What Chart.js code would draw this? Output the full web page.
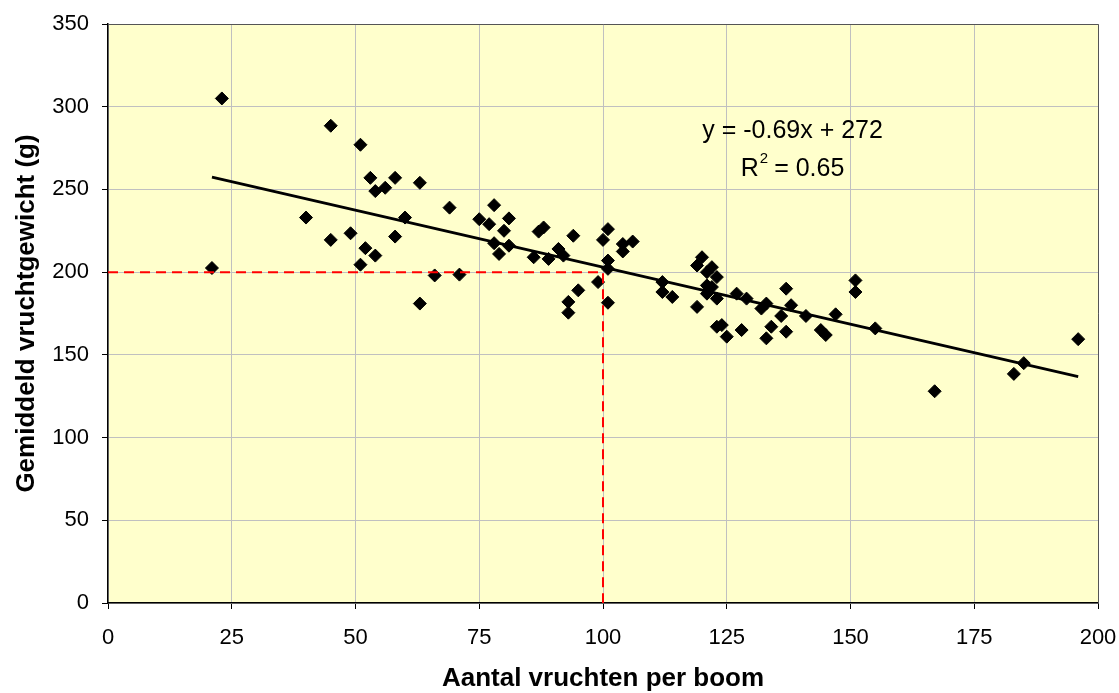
<!DOCTYPE html>
<html>
<head>
<meta charset="utf-8">
<script src="https://cdn.jsdelivr.net/npm/chart.js@4/dist/chart.umd.min.js"></script>
<style>
  html, body { margin: 0; padding: 0; background: #fff; }
  #wrap { width: 1119px; height: 693px; }
</style>
</head>
<body>
<div id="wrap"><canvas id="c"></canvas></div>
<script>
// fruit count per tree vs mean fruit weight
const aantal = [21, 23, 40, 45, 45, 49, 51, 51, 52, 53, 54, 54, 56, 58, 58, 60, 63, 63, 66, 69,
  71, 75, 77, 78, 78, 79, 80, 81, 81, 86, 87, 88, 89, 91, 92, 93, 93, 94, 95, 99,
  100, 101, 101, 101, 101, 104, 104, 106, 112, 112, 114, 119, 119, 120, 121, 121, 121, 122, 122, 123,
  123, 123, 124, 125, 127, 128, 129, 132, 133, 133, 134, 136, 137, 137, 138, 141, 144, 145, 147, 151,
  151, 155, 167, 183, 185, 196];
const gewicht = [202.5, 305, 233, 288.5, 219.5, 223.5, 277, 204.5, 214.5, 257, 249, 210, 251, 257, 221.5, 233, 254, 181, 198, 239,
  198.5, 232, 229, 240.5, 217.5, 211, 225, 232.5, 216, 209, 224.5, 227, 208, 214, 210, 182, 175.5, 222, 189, 194,
  219.5, 226, 207, 202, 181.5, 217, 212.5, 218.5, 194, 188, 185, 204, 179, 209, 200, 192, 187, 203, 191, 197,
  184, 167, 168, 161, 187, 165, 184, 178, 181, 160, 167, 173.5, 190, 164, 180, 173.5, 165, 162, 174.5, 195,
  188, 166, 128, 138.5, 145, 159.5];

// trend line end points (y = -0.69x + 272)
const trendX = [21, 196];
const trendY = [257.5, 136.8];

// reference lines at 100 fruits / 200 g
const refX = [0, 100, 100];
const refY = [200, 200, 0];

const xTicks = [0, 25, 50, 75, 100, 125, 150, 175, 200];
const yTicks = [0, 50, 100, 150, 200, 250, 300, 350];

const vergelijking = 'y = -0.69x + 272';
const rKwadraat = '0.65';

const FONT = '"Liberation Sans", Arial, sans-serif';
const toPts = (xs, ys) => xs.map((x, i) => ({ x: x, y: ys[i] }));

const plotBg = {
  id: 'plotBg',
  beforeDraw(chart) {
    const { ctx, chartArea: a } = chart;
    ctx.save();
    ctx.fillStyle = '#FFFFCC';
    ctx.fillRect(a.left, a.top, a.width, a.height);
    ctx.restore();
  },
  afterDraw(chart) {
    const { ctx, chartArea: a, scales } = chart;
    ctx.save();
    ctx.strokeStyle = '#555';
    ctx.lineWidth = 1;
    ctx.beginPath();
    ctx.moveTo(a.left, a.top + 0.5);
    ctx.lineTo(a.right + 0.5, a.top + 0.5);
    ctx.lineTo(a.right + 0.5, a.bottom);
    ctx.stroke();

    // equation text
    const cx = scales.x.getPixelForValue(138.3);
    const cy1 = scales.y.getPixelForValue(285);
    const cy2 = scales.y.getPixelForValue(262.3);
    ctx.fillStyle = '#000';
    ctx.font = '25px ' + FONT;
    ctx.textBaseline = 'middle';
    ctx.textAlign = 'center';
    ctx.fillText(vergelijking, cx, cy1);

    const p1 = 'R', p3 = ' = ' + rKwadraat;
    const w1 = ctx.measureText(p1).width;
    const w3 = ctx.measureText(p3).width;
    ctx.font = '15px ' + FONT;
    const w2 = ctx.measureText('2').width;
    const sx = cx - (w1 + w2 + w3) / 2;
    ctx.textAlign = 'left';
    ctx.font = '25px ' + FONT;
    ctx.fillText(p1, sx, cy2);
    ctx.font = '15px ' + FONT;
    ctx.fillText('2', sx + w1 + 1, cy2 - 10);
    ctx.font = '25px ' + FONT;
    ctx.fillText(p3, sx + w1 + w2, cy2);
    ctx.restore();
  }
};

new Chart(document.getElementById('c'), {
  type: 'scatter',
  data: {
    datasets: [
      {
        label: 'ref',
        data: toPts(refX, refY),
        showLine: true,
        borderColor: '#FF0000',
        borderWidth: 2,
        borderDash: [10, 6],
        pointRadius: 0,
        fill: false
      },
      {
        label: 'trend',
        data: toPts(trendX, trendY),
        showLine: true,
        borderColor: '#000',
        borderWidth: 2.8,
        pointRadius: 0,
        fill: false
      },
      {
        label: 'bomen',
        data: toPts(aantal, gewicht),
        pointStyle: 'rectRot',
        pointRadius: 6.5,
        pointBackgroundColor: '#000',
        pointBorderColor: '#000',
        pointBorderWidth: 1
      }
    ]
  },
  options: {
    responsive: true,
    maintainAspectRatio: false,
    animation: false,
    layout: { padding: { top: 24, right: 21, left: 0, bottom: 0 } },
    plugins: {
      legend: { display: false },
      tooltip: { enabled: false }
    },
    scales: {
      x: {
        type: 'linear',
        min: 0,
        max: 200,
        afterBuildTicks: s => { s.ticks = xTicks.map(v => ({ value: v })); },
        afterFit: s => { s.height = 90; s.paddingLeft = 0; s.paddingRight = 0; },
        grid: { color: '#C0C0C0', tickColor: '#000', tickLength: 6 },
        border: { color: '#000', width: 1.5 },
        ticks: {
          color: '#000',
          padding: 16,
          maxRotation: 0,
          font: { family: FONT, size: 22 }
        },
        title: {
          display: true,
          text: 'Aantal vruchten per boom',
          color: '#000',
          padding: { top: 0, bottom: 0 },
          font: { family: FONT, size: 26, weight: 'bold', lineHeight: 1.1 }
        }
      },
      y: {
        type: 'linear',
        min: 0,
        max: 350,
        afterBuildTicks: s => { s.ticks = yTicks.map(v => ({ value: v })); },
        afterFit: s => { s.width = 108; s.paddingTop = 0; s.paddingBottom = 0; },
        grid: { color: '#C0C0C0', tickColor: '#000', tickLength: 6 },
        border: { color: '#000', width: 1.5 },
        ticks: {
          color: '#000',
          padding: 13,
          font: { family: FONT, size: 22 }
        },
        title: {
          display: true,
          text: 'Gemiddeld vruchtgewicht (g)',
          color: '#000',
          padding: { top: 13, bottom: 0 },
          font: { family: FONT, size: 26, weight: 'bold', lineHeight: 1.1 }
        }
      }
    }
  },
  plugins: [plotBg]
});
</script>
</body>
</html>
